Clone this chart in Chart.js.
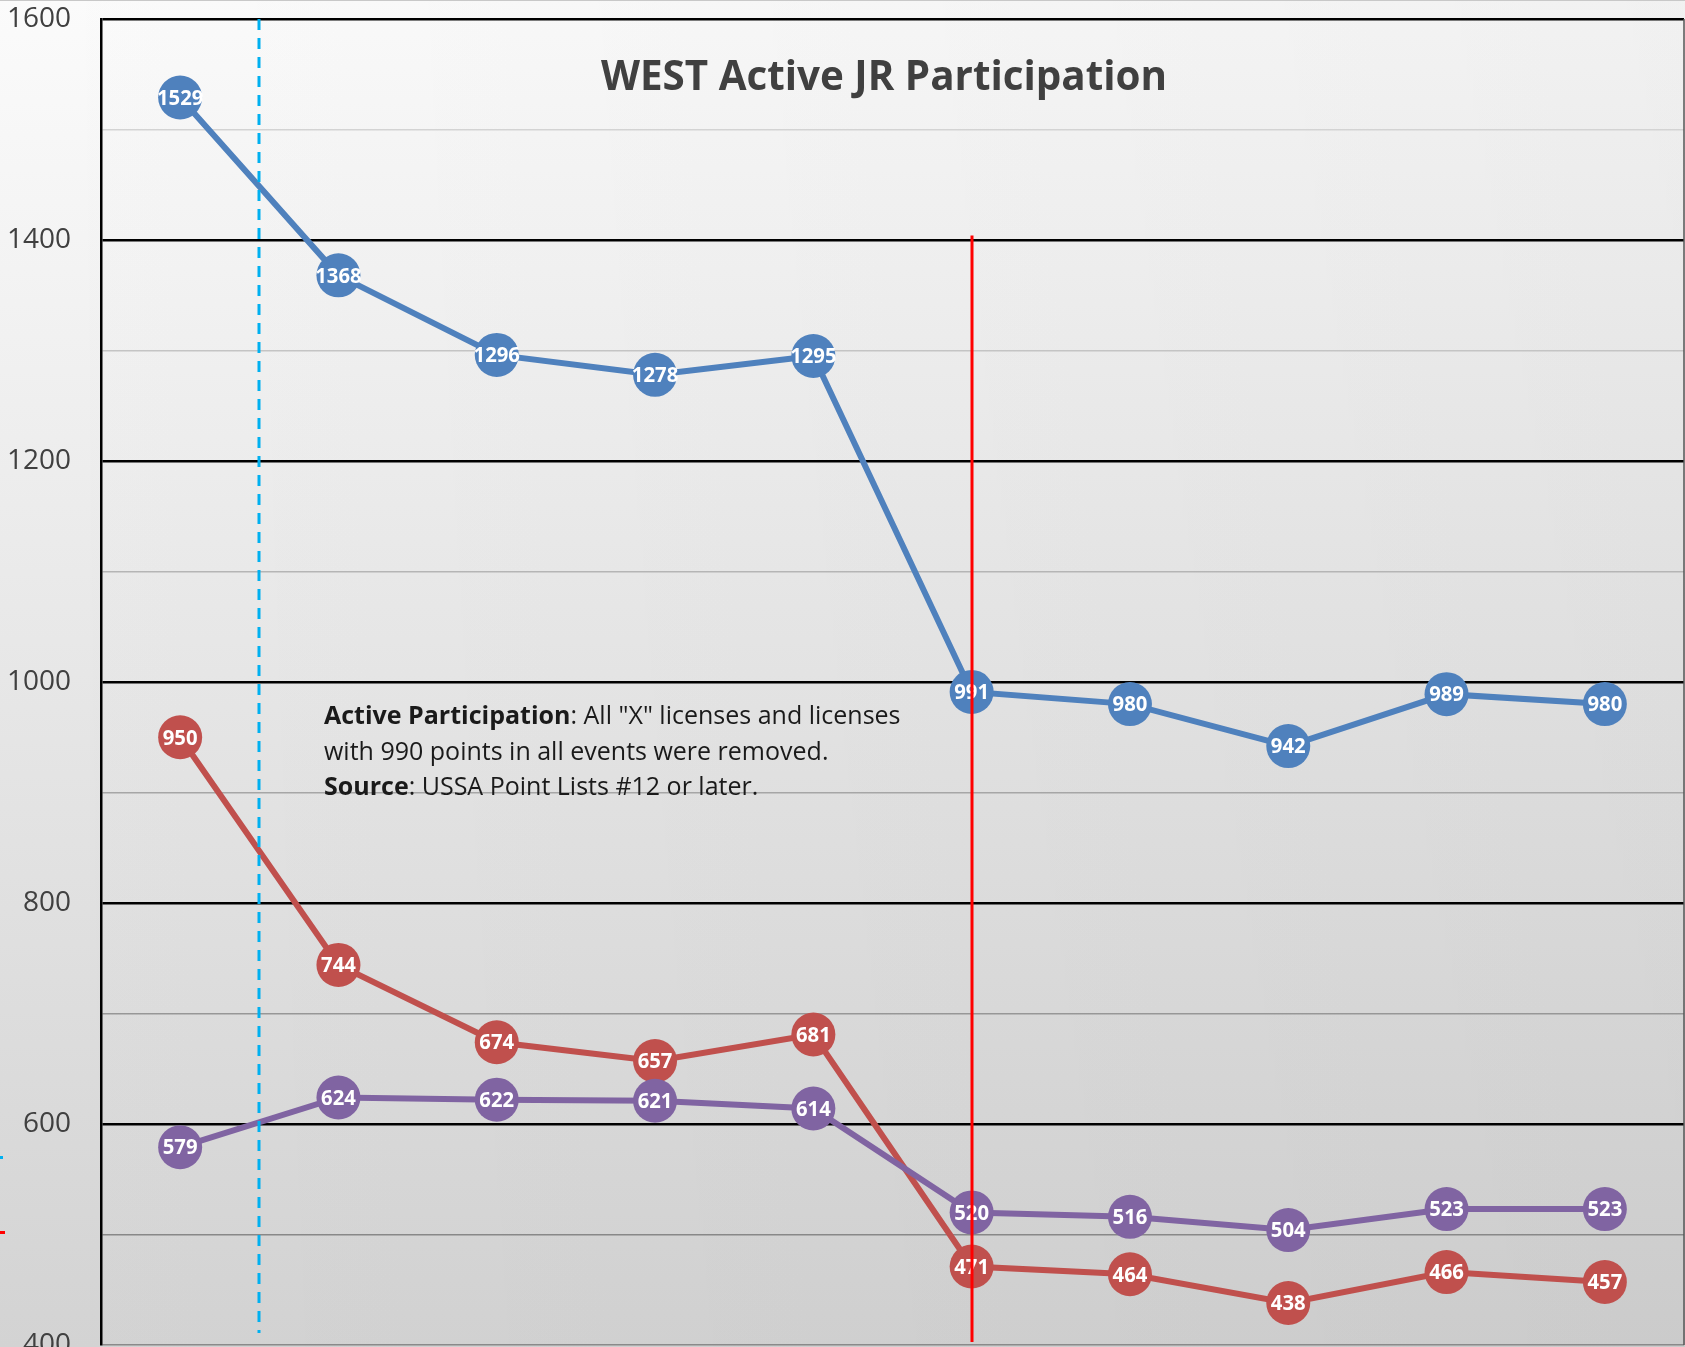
<!DOCTYPE html>
<html>
<head>
<meta charset="utf-8">
<title>WEST Active JR Participation</title>
<script src="https://cdn.jsdelivr.net/npm/chart.js@4.4.0/dist/chart.umd.min.js"></script>
<style>
  html, body { margin: 0; padding: 0; overflow: hidden; }
  body {
    width: 1685px; height: 1347px; position: relative;
    background: linear-gradient(to bottom, #fbfbfb 0%, #d3d3d3 100%);
  }
  #wrap {
    position: absolute; left: 0; top: 0; width: 1685px; height: 1400px;
    background: linear-gradient(to right, rgba(0,0,0,0) 0%, rgba(0,0,0,0.04) 100%);
  }
  #topline { position: absolute; left: 0; top: 0; width: 1685px; height: 1px; background: #c8c8c8; }
  .mark { position: absolute; left: 0; height: 3px; }
</style>
</head>
<body>
<div id="wrap"><canvas id="lineChart" width="1685" height="1400"></canvas></div>
<div id="topline"></div>
<div class="mark" style="top:1156px; width:3px; background:#00b0f0;"></div>
<div class="mark" style="top:1231px; width:5px; background:#ff0000;"></div>
<script>
// point lists, oldest to newest (no labels shown on the x axis)
const categories = ['1', '2', '3', '4', '5', '6', '7', '8', '9', '10'];
const blueValues = [1529, 1368, 1296, 1278, 1295, 991, 980, 942, 989, 980];
const redValues = [950, 744, 674, 657, 681, 471, 464, 438, 466, 457];
const purpleValues = [579, 624, 622, 621, 614, 520, 516, 504, 523, 523];
const yTickLabels = [400, 600, 800, 1000, 1200, 1400, 1600];

const titleText = 'WEST Active JR Participation';
const noteLines = [
  [['Active Participation', true], [': All "X" licenses and licenses', false]],
  [['with 990 points in all events were removed.', false]],
  [['Source', true], [': USSA Point Lists #12 or later.', false]]
];

// dashed marker sits between the first two points, red marker on the 6th
const dashedAt = 0.5;
const redAt = 5;
const redTop = 1404;

const overlay = {
  id: 'overlay',
  afterDatasetsDraw(chart) {
    const ctx = chart.ctx;
    const area = chart.chartArea;
    const x = chart.scales.x;

    // blue dashed line
    ctx.save();
    ctx.strokeStyle = '#00b0f0';
    ctx.lineWidth = 3;
    ctx.setLineDash([11, 8]);
    const xd = Math.round(x.getPixelForValue(dashedAt));
    ctx.beginPath();
    ctx.moveTo(xd, area.top);
    ctx.lineTo(xd, area.bottom - 12);
    ctx.stroke();
    ctx.restore();

    // white labels inside the markers
    ctx.save();
    ctx.font = 'bold 22px "Open Sans"';
    ctx.fillStyle = '#ffffff';
    ctx.textAlign = 'center';
    ctx.textBaseline = 'middle';
    chart.data.datasets.forEach(function(ds, i) {
      const meta = chart.getDatasetMeta(i);
      meta.data.forEach(function(pt, j) {
        const s = String(ds.data[j]);
        ctx.fillText(s, pt.x, pt.y + 1, s.length * 11.6);
      });
    });
    ctx.restore();
  },
  afterDraw(chart) {
    const ctx = chart.ctx;
    const area = chart.chartArea;
    const x = chart.scales.x;
    const y = chart.scales.y;

    // red vertical line
    ctx.save();
    ctx.strokeStyle = '#ff0000';
    ctx.lineWidth = 3;
    const xr = Math.round(x.getPixelForValue(redAt));
    ctx.beginPath();
    ctx.moveTo(xr, y.getPixelForValue(redTop));
    ctx.lineTo(xr, area.bottom - 3);
    ctx.stroke();

    // right edge of the plot
    ctx.strokeStyle = '#555555';
    ctx.lineWidth = 1.5;
    ctx.beginPath();
    ctx.moveTo(area.right, area.top);
    ctx.lineTo(area.right, area.bottom);
    ctx.stroke();

    // title
    ctx.font = 'bold 41px "Open Sans"';
    ctx.fillStyle = '#404040';
    ctx.textAlign = 'center';
    ctx.textBaseline = 'middle';
    ctx.fillText(titleText, 884, 78, 566);

    // note
    ctx.textAlign = 'left';
    ctx.fillStyle = '#1a1a1a';
    let lineY = 717;
    noteLines.forEach(function(parts) {
      let cx = 324;
      parts.forEach(function(p) {
        ctx.font = (p[1] ? 'bold ' : '') + '25px "Open Sans"';
        ctx.fillText(p[0], cx, lineY);
        cx += ctx.measureText(p[0]).width;
      });
      lineY += 35.5;
    });
    ctx.restore();
  }
};

const ctx = document.getElementById('lineChart').getContext('2d');

new Chart(ctx, {
  type: 'line',
  data: {
    labels: categories,
    datasets: [
      {
        label: 'Series 3',
        data: purpleValues,
        borderColor: '#8064a2',
        backgroundColor: '#8064a2'
      },
      {
        label: 'Series 2',
        data: redValues,
        borderColor: '#c0504d',
        backgroundColor: '#c0504d'
      },
      {
        label: 'Series 1',
        data: blueValues,
        borderColor: '#4f81bd',
        backgroundColor: '#4f81bd'
      }
    ]
  },
  options: {
    responsive: false,
    animation: false,
    events: [],
    layout: {
      autoPadding: false,
      padding: { top: 19, bottom: 55, left: 0, right: 1 }
    },
    elements: {
      line: { borderWidth: 6, tension: 0 },
      point: { radius: 22, hoverRadius: 22, borderWidth: 0 }
    },
    plugins: {
      legend: { display: false },
      tooltip: { enabled: false },
      title: { display: false }
    },
    scales: {
      x: {
        display: false,
        offset: true
      },
      y: {
        min: 400,
        max: 1600,
        afterFit: function(scale) { scale.width = 101; },
        border: { color: '#000000', width: 2.5 },
        grid: {
          drawTicks: true,
          tickLength: 30,
          tickColor: 'rgba(0,0,0,0)',
          color: function(c) {
            const v = c.tick.value;
            if (v === 400) return '#8a8a8a';
            if (v % 200 === 0) return '#000000';
            const t = (1600 - v) / 1200;
            const g = Math.round(218 - t * 90);
            return 'rgb(' + g + ',' + g + ',' + g + ')';
          },
          lineWidth: function(c) {
            const v = c.tick.value;
            return (v % 200 === 0 && v !== 400) ? 2.5 : 1.5;
          }
        },
        ticks: {
          stepSize: 100,
          autoSkip: false,
          padding: 0,
          color: '#404040',
          font: { family: 'Open Sans', size: 28 },
          callback: function(v) {
            return yTickLabels.includes(v) ? String(v) : '';
          }
        }
      }
    }
  },
  plugins: [overlay]
});
</script>
</body>
</html>
